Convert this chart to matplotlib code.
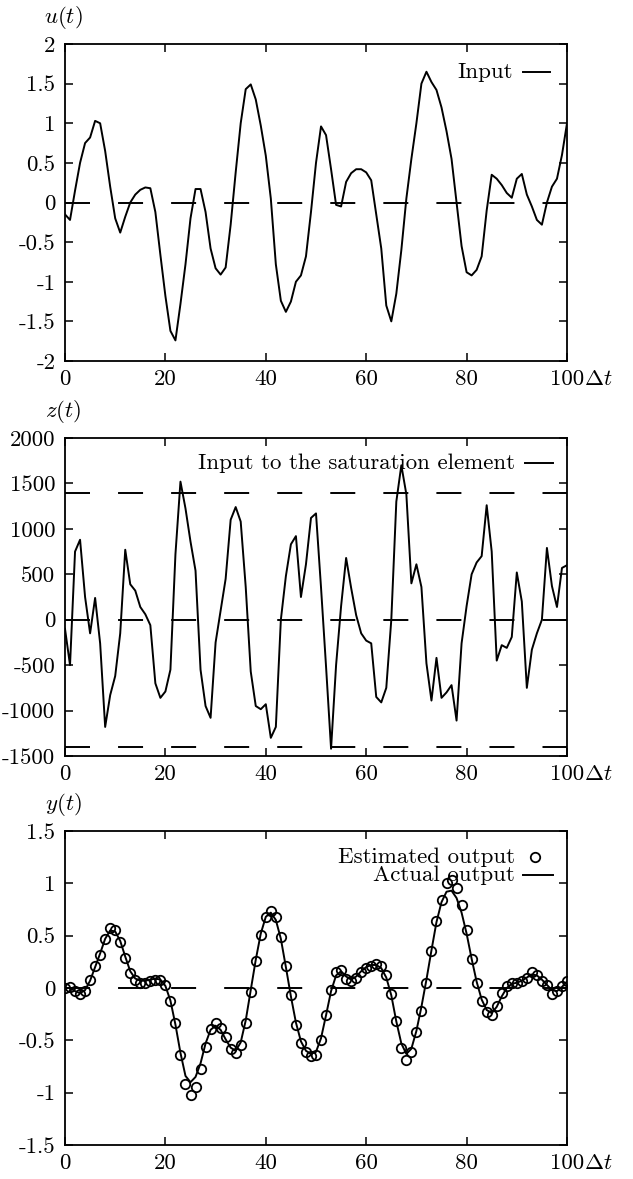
import numpy as np
import matplotlib
matplotlib.use("Agg")
import matplotlib.pyplot as plt
from matplotlib.lines import Line2D

# ---------------- data ----------------
t = list(range(101))

u_input = [-0.15, -0.22, 0.15, 0.5, 0.75, 0.82, 1.03, 1.0, 0.65, 0.2,
           -0.2, -0.38, -0.18, 0.0, 0.1, 0.16, 0.19, 0.18, -0.12, -0.66,
           -1.18, -1.62, -1.74, -1.28, -0.78, -0.2, 0.17, 0.17, -0.12, -0.58,
           -0.83, -0.91, -0.82, -0.28, 0.38, 1.0, 1.43, 1.49, 1.3, 0.97,
           0.59, 0.05, -0.78, -1.24, -1.38, -1.25, -1.0, -0.92, -0.68, -0.12,
           0.5, 0.96, 0.85, 0.42, -0.03, -0.05, 0.26, 0.37, 0.42, 0.42,
           0.38, 0.28, -0.15, -0.58, -1.3, -1.5, -1.15, -0.6, 0.05, 0.55,
           1.0, 1.5, 1.65, 1.52, 1.42, 1.2, 0.9, 0.55, 0.0, -0.55,
           -0.88, -0.92, -0.85, -0.68, -0.1, 0.35, 0.3, 0.22, 0.12, 0.06,
           0.3, 0.36, 0.1, -0.05, -0.22, -0.28, 0.0, 0.2, 0.3, 0.6,
           1.0]

z_sat_in = [-100, -500, 750, 880, 250, -150, 240, -260, -1180, -830,
            -620, -150, 770, 390, 320, 140, 60, -60, -700, -860,
            -790, -550, 720, 1520, 1225, 860, 540, -550, -950, -1080,
            -250, 100, 450, 1100, 1240, 1080, 360, -570, -950, -985,
            -930, -1300, -1180, 0, 480, 830, 920, 250, 610, 1120,
            1170, 355, -515, -1420, -500, 150, 680, 350, 50, -150,
            -230, -260, -850, -910, -750, 0, 1300, 1700, 1380, 400,
            610, 360, -480, -890, -420, -860, -800, -720, -1110, -260,
            150, 500, 630, 700, 1260, 750, -450, -280, -310, -190,
            520, 200, -750, -330, -150, 0, 790, 370, 140, 570,
            600]
saturation_level = 1400

y_estimated = [0.00, 0.01, -0.03, -0.06, -0.03, 0.08, 0.21, 0.32, 0.47, 0.57,
               0.55, 0.44, 0.29, 0.14, 0.08, 0.05, 0.05, 0.07, 0.08, 0.08,
               0.03, -0.12, -0.33, -0.64, -0.92, -1.02, -0.95, -0.77, -0.56, -0.39,
               -0.33, -0.38, -0.47, -0.58, -0.62, -0.54, -0.33, -0.04, 0.26, 0.51,
               0.68, 0.74, 0.68, 0.49, 0.21, -0.07, -0.35, -0.53, -0.61, -0.65,
               -0.64, -0.50, -0.26, -0.02, 0.15, 0.17, 0.09, 0.07, 0.10, 0.15,
               0.19, 0.21, 0.23, 0.21, 0.12, -0.06, -0.32, -0.57, -0.69, -0.61,
               -0.42, -0.22, 0.05, 0.35, 0.64, 0.84, 1.00, 1.03, 0.96, 0.79,
               0.55, 0.28, 0.05, -0.12, -0.23, -0.26, -0.17, -0.05, 0.02, 0.05,
               0.05, 0.07, 0.10, 0.15, 0.12, 0.07, 0.03, -0.06, -0.03, 0.02,
               0.07]

y_actual = [0.00, 0.00, -0.03, -0.05, -0.02, 0.07, 0.20, 0.33, 0.47, 0.55,
            0.54, 0.45, 0.30, 0.16, 0.09, 0.07, 0.07, 0.08, 0.09, 0.08,
            0.02, -0.12, -0.35, -0.62, -0.84, -0.90, -0.85, -0.72, -0.53, -0.40,
            -0.36, -0.40, -0.49, -0.57, -0.60, -0.52, -0.31, -0.02, 0.27, 0.52,
            0.68, 0.72, 0.65, 0.47, 0.20, -0.08, -0.33, -0.51, -0.60, -0.63,
            -0.61, -0.48, -0.26, -0.03, 0.12, 0.16, 0.11, 0.08, 0.11, 0.16,
            0.20, 0.22, 0.22, 0.19, 0.10, -0.07, -0.32, -0.53, -0.63, -0.58,
            -0.41, -0.18, 0.08, 0.36, 0.63, 0.82, 0.92, 0.93, 0.86, 0.72,
            0.52, 0.28, 0.06, -0.11, -0.21, -0.24, -0.18, -0.08, 0.00, 0.04,
            0.05, 0.07, 0.10, 0.13, 0.12, 0.08, 0.03, -0.02, -0.03, 0.01,
            0.06]

x_ticks = [0, 20, 40, 60, 80, 100]
x_ticklabels = ["0", "20", "40", "60", "80", "100"]
u_ticks = [-2, -1.5, -1, -0.5, 0, 0.5, 1, 1.5, 2]
u_ticklabels = ["-2", "-1.5", "-1", "-0.5", "0", "0.5", "1", "1.5", "2"]
z_ticks = [-1500, -1000, -500, 0, 500, 1000, 1500, 2000]
z_ticklabels = ["-1500", "-1000", "-500", "0", "500", "1000", "1500", "2000"]
y_ticks = [-1.5, -1, -0.5, 0, 0.5, 1, 1.5]
y_ticklabels = ["-1.5", "-1", "-0.5", "0", "0.5", "1", "1.5"]

# ---------------- style ----------------
plt.rcParams["font.family"] = ["cmr10", "DejaVu Serif"]
plt.rcParams["mathtext.fontset"] = "cm"
plt.rcParams["axes.unicode_minus"] = False
plt.rcParams["lines.scale_dashes"] = False
FS = 16.5
LW = 1.4
DASH = (18, 20.2)

W, H = 633, 1179
fig = plt.figure(figsize=(W / 100, H / 100), dpi=100)

def px_axes(left, top, right, bottom):
    return fig.add_axes([left / W, 1 - bottom / H, (right - left) / W, (bottom - top) / H])

ax1 = px_axes(65, 44, 567, 361)
ax2 = px_axes(65, 438, 567, 756)
ax3 = px_axes(65, 831, 567, 1145)

def style(ax, yticks, yticklabels, ylim, ylabel):
    ax.set_xlim(0, 100)
    ax.set_ylim(*ylim)
    ax.set_xticks(x_ticks)
    ax.set_xticklabels(x_ticklabels, fontsize=FS)
    ax.set_yticks(yticks)
    ax.set_yticklabels(yticklabels, fontsize=FS)
    ax.tick_params(direction="in", length=6, width=1.1, top=True, right=True,
                   color="black")
    ax.tick_params(axis="x", pad=6)
    ax.tick_params(axis="y", pad=7)
    for s in ax.spines.values():
        s.set_linewidth(1.3)
    ax.annotate("$\\Delta t$", xy=(1, 0), xycoords="axes fraction",
                xytext=(12.5, -6), textcoords="offset points",
                ha="left", va="top", fontsize=FS)
    ax.annotate(ylabel, xy=(0, 1), xycoords="axes fraction",
                xytext=(-1, 19), textcoords="offset points",
                ha="center", va="center", fontsize=FS)

def legend_entry(ax, label, ty, text_right, h0, h1, marker=False):
    ax.text(text_right, ty, label, transform=ax.transAxes, ha="right",
            va="center", fontsize=FS)
    if marker:
        ax.add_line(Line2D([(h0 + h1) / 2], [ty], transform=ax.transAxes,
                           marker="o", markersize=6.8, markerfacecolor="white",
                           markeredgecolor="black", markeredgewidth=1.3,
                           linestyle="none", clip_on=False))
    else:
        ax.add_line(Line2D([h0, h1], [ty, ty], transform=ax.transAxes,
                           color="black", lw=LW, clip_on=False))

# Panel 1
ax1.plot(t, u_input, color="black", lw=LW)
ax1.axhline(0, color="black", lw=LW, dashes=DASH)
style(ax1, u_ticks, u_ticklabels, (-2, 2), "$u(t)$")
legend_entry(ax1, "Input", 0.912, 0.892, 0.912, 0.966)

# Panel 2
ax2.plot(t, z_sat_in, color="black", lw=LW)
ax2.axhline(0, color="black", lw=LW, dashes=DASH)
ax2.axhline(saturation_level, color="black", lw=LW, dashes=DASH)
ax2.axhline(-saturation_level, color="black", lw=LW, dashes=DASH)
style(ax2, z_ticks, z_ticklabels, (-1500, 2000), "$z(t)$")
legend_entry(ax2, "Input to the saturation element", 0.922, 0.896, 0.916, 0.972)

# Panel 3
ax3.plot(t, y_actual, color="black", lw=LW)
ax3.plot(t, y_estimated, linestyle="none", marker="o", markersize=6.8,
         markerfacecolor="none", markeredgecolor="black", markeredgewidth=1.3)
ax3.axhline(0, color="black", lw=LW, dashes=DASH)
style(ax3, y_ticks, y_ticklabels, (-1.5, 1.5), "$y(t)$")
legend_entry(ax3, "Estimated output", 0.916, 0.896, 0.902, 0.972, marker=True)
legend_entry(ax3, "Actual output", 0.86, 0.896, 0.912, 0.972)

fig.savefig("out.png", dpi=100)
